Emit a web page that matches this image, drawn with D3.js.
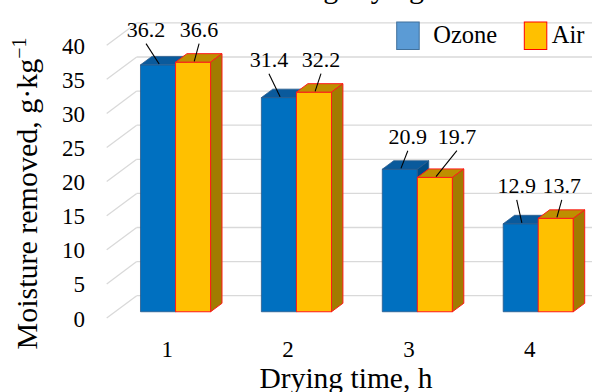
<!DOCTYPE html>
<html>
<head>
<meta charset="utf-8">
<script src="https://cdn.jsdelivr.net/npm/d3@7"></script>
<style>
  html, body { margin: 0; padding: 0; background: #fff; }
  svg { display: block; }
  text { font-family: "Liberation Serif", "Times New Roman", serif; fill: #000; }
</style>
</head>
<body>
<svg id="chart" width="592" height="392"></svg>
<script>
// Moisture removed per drying hour, ozone vs. air drying
const categories = ["1", "2", "3", "4"];
const seriesNames = ["Ozone", "Air"];
const ozoneValues = [36.2, 31.4, 20.9, 12.9];
const airValues = [36.6, 32.2, 19.7, 13.7];
const yTicks = [0, 5, 10, 15, 20, 25, 30, 35, 40];

const series = [
  { name: seriesNames[0], values: ozoneValues,
    front: "#0070C0", top: "#0A5A9C", side: "#004C87", stroke: "#2A5A8C", strokeW: 0.8,
    legendFill: "#5B9BD5", legendStroke: "#41719C" },
  { name: seriesNames[1], values: airValues,
    front: "#FFC000", top: "#BE8F00", side: "#A27B00", stroke: "#FF1A1A", strokeW: 1,
    legendFill: "#FFC000", legendStroke: "#FF0000" }
];

// horizontal nudges for the data labels (per category: [ozone, air])
const labelNudge = [[-12, 6], [-10, 7], [8, 22], [-4, 6]];

const svg = d3.select("#chart");

// 3-D box: front floor edge, plus a depth vector toward the back wall
const depth = { dx: 30, dy: -22.3 };
const barZ0 = 0.28, barZ1 = 0.66;

const x = d3.scaleBand().domain(categories).range([106.7, 590.3]);
const bw = x.bandwidth();
const xs = d3.scaleBand().domain(seriesNames).range([0.21 * bw, 0.79 * bw]);
const y = d3.scaleLinear().domain([0, 40]).range([318, 45.2]);

const proj = (px, v, z) => [px + z * depth.dx, y(v) + z * depth.dy];

// chart title (sits mostly above the visible area)
svg.append("text")
  .attr("x", 424).attr("y", -2)
  .attr("text-anchor", "end")
  .attr("font-size", 30)
  .text("Moisture removed during drying");

// gridlines on the back wall and along the side wall
const grid = svg.append("g").attr("stroke", "#D9D9D9").attr("stroke-width", 1.3).attr("fill", "none");
yTicks.forEach(v => {
  const [bx, by] = proj(x.range()[0], v, 1);
  grid.append("line").attr("x1", bx).attr("y1", by).attr("x2", 600).attr("y2", by);
  const [fx, fy] = proj(x.range()[0], v, 0);
  grid.append("line").attr("x1", fx).attr("y1", fy).attr("x2", bx).attr("y2", by);
});

// y tick labels
svg.append("g").selectAll("text").data(yTicks).join("text")
  .attr("x", 85).attr("y", d => y(d) + 1)
  .attr("text-anchor", "end")
  .attr("dominant-baseline", "central")
  .attr("font-size", 23)
  .text(d => d);

// x tick labels
svg.append("g").selectAll("text").data(categories).join("text")
  .attr("x", d => x(d) + bw / 2).attr("y", 357)
  .attr("text-anchor", "middle")
  .attr("font-size", 23)
  .text(d => d);

// bars
const dz = barZ1 - barZ0;
const ddx = dz * depth.dx, ddy = dz * depth.dy;
const bars = svg.append("g");
categories.forEach((c, i) => {
  series.forEach(s => {
    const v = s.values[i];
    const left = x(c) + xs(s.name);
    const w = xs.bandwidth();
    const [fx, fyTop] = proj(left, v, barZ0);
    const [, fyBase] = proj(left, 0, barZ0);
    const g = bars.append("g")
      .attr("stroke", s.stroke).attr("stroke-width", s.strokeW).attr("stroke-linejoin", "round");
    g.append("rect")
      .attr("x", fx).attr("y", fyTop).attr("width", w).attr("height", fyBase - fyTop)
      .attr("fill", s.front);
    g.append("polygon")
      .attr("points", [[fx, fyTop], [fx + w, fyTop], [fx + w + ddx, fyTop + ddy], [fx + ddx, fyTop + ddy]].join(" "))
      .attr("fill", s.top);
    g.append("polygon")
      .attr("points", [[fx + w, fyTop], [fx + w, fyBase], [fx + w + ddx, fyBase + ddy], [fx + w + ddx, fyTop + ddy]].join(" "))
      .attr("fill", s.side);
  });
});

// data labels with leader lines
const labels = svg.append("g");
categories.forEach((c, i) => {
  const tops = series.map(s => proj(x(c) + xs(s.name), s.values[i], barZ0)[1]);
  const baseline = Math.min(...tops) - 25.5;
  series.forEach((s, k) => {
    const v = s.values[i];
    const left = x(c) + xs(s.name);
    const [fx, fy] = proj(left, v, barZ0);
    const cx = fx + xs.bandwidth() / 2;
    const lx = cx + labelNudge[i][k];
    labels.append("line")
      .attr("x1", lx).attr("y1", baseline + 7)
      .attr("x2", cx + 0.1 * ddx).attr("y2", fy + 0.1 * ddy)
      .attr("stroke", "#000").attr("stroke-width", 1.1);
    labels.append("text")
      .attr("x", lx).attr("y", baseline)
      .attr("text-anchor", "middle")
      .attr("font-size", 22)
      .text(v.toFixed(1));
  });
});

// legend
const legend = svg.append("g");
const legendPos = [{ sx: 396.7, tx: 433.3 }, { sx: 524.3, tx: 551.7 }];
series.forEach((s, k) => {
  legend.append("rect")
    .attr("x", legendPos[k].sx).attr("y", 22).attr("width", 22.5).attr("height", 27.5)
    .attr("fill", s.legendFill).attr("stroke", s.legendStroke).attr("stroke-width", 1);
  legend.append("text")
    .attr("x", legendPos[k].tx).attr("y", 42.5)
    .attr("font-size", 24.5)
    .text(s.name);
});

// axis titles
svg.append("text")
  .attr("x", 346).attr("y", 387.5)
  .attr("text-anchor", "middle")
  .attr("font-size", 29.5)
  .text("Drying time, h");

const yTitle = svg.append("text")
  .attr("transform", "translate(37,193.5) rotate(-90)")
  .attr("text-anchor", "middle")
  .attr("font-size", 30);
yTitle.append("tspan").text("Moisture removed, g\u00B7kg");
yTitle.append("tspan").attr("dy", -11).attr("font-size", 20).text("\u22121");
</script>
</body>
</html>
